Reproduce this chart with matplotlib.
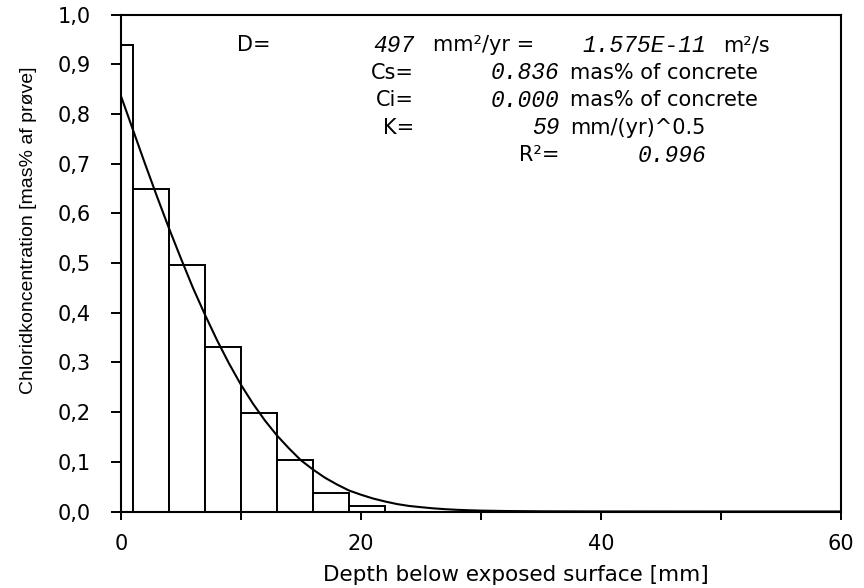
import matplotlib
matplotlib.use("Agg")
import matplotlib.pyplot as plt

# ---------------- data ----------------
depth_from = [0, 1, 4, 7, 10, 13, 16, 19]          # mm
depth_to = [1, 4, 7, 10, 13, 16, 19, 22]           # mm
chloride = [0.938, 0.649, 0.495, 0.332, 0.198, 0.103, 0.037, 0.011]  # mas%

fit_depth = [0, 1, 2, 3, 4, 5, 6, 7, 8, 9, 10, 11, 12, 13, 14, 15, 16, 17,
             18, 19, 20, 21, 22, 23, 24, 25, 26, 27, 28, 29, 30, 32, 35,
             40, 50, 60]
fit_conc = [0.836, 0.768, 0.700, 0.634, 0.570, 0.509, 0.450, 0.396, 0.345,
            0.298, 0.255, 0.217, 0.183, 0.153, 0.127, 0.103, 0.0845, 0.068,
            0.0544, 0.0423, 0.0338, 0.0262, 0.0202, 0.0150, 0.0112, 0.0087,
            0.0064, 0.0047, 0.0034, 0.0025, 0.0018, 0.0010, 0.0004, 0.0001,
            0.0, 0.0]

x_ticks = [0, 10, 20, 30, 40, 50, 60]
x_ticklabels = ["0", "", "20", "", "40", "", "60"]
y_ticks = [0.0, 0.1, 0.2, 0.3, 0.4, 0.5, 0.6, 0.7, 0.8, 0.9, 1.0]
y_ticklabels = ["0,0", "0,1", "0,2", "0,3", "0,4", "0,5", "0,6", "0,7",
                "0,8", "0,9", "1,0"]

D_mm2_yr = "497"
D_m2_s = "1.575E-11"
Cs_val = "0.836"
Ci_val = "0.000"
K_val = "59"
R2_val = "0.996"

# ---------------- figure ----------------
fig = plt.figure(figsize=(8.64, 5.88), dpi=100)
ax = fig.add_axes([0.1400, 0.1301, 0.8333, 0.8452])

widths = [b - a for a, b in zip(depth_from, depth_to)]
ax.bar(depth_from, chloride, width=widths, align="edge",
       facecolor="white", edgecolor="black", linewidth=1.4, zorder=2)
ax.plot(fit_depth, fit_conc, color="black", linewidth=1.5, zorder=3)

ax.set_xlim(0, 60)
ax.set_ylim(0, 1.0)
ax.set_xticks(x_ticks)
ax.set_xticklabels(x_ticklabels)
ax.set_yticks(y_ticks)
ax.set_yticklabels(y_ticklabels)

for s in ax.spines.values():
    s.set_linewidth(1.5)
    s.set_color("black")
    s.set_zorder(4)

ax.tick_params(axis="x", direction="out", length=6, width=1.4, pad=10.5,
               labelsize=15)
ax.tick_params(axis="y", direction="out", length=7.5, width=1.4, pad=14,
               labelsize=15)

ax.set_xlabel("Depth below exposed surface [mm]", fontsize=15.5,
              family="DejaVu Sans")
ax.xaxis.set_label_coords(0.549, -0.108)
ax.set_ylabel("Chloridkoncentration [mas% af prøve]", fontsize=14,
              family=["Liberation Sans", "DejaVu Sans"])
ax.yaxis.set_label_coords(-0.117, 0.565)

# ---------------- annotation block ----------------
sans = dict(family="DejaVu Sans", fontsize=15, va="center")
mono = dict(family=["Liberation Mono", "DejaVu Sans Mono"], style="italic",
            weight="normal", fontsize=16.5, va="center")

rows_y = [0.9386, 0.8833, 0.8279, 0.7726, 0.7173]

ax.text(9.67, rows_y[0], "D=", ha="left", **sans)
ax.text(24.45, rows_y[0], D_mm2_yr, ha="right", **mono)
ax.text(26.0, rows_y[0], "mm²/yr =", ha="left", **sans)
ax.text(48.8, rows_y[0], D_m2_s, ha="right", **mono)
ax.text(50.15, rows_y[0], "m²/s", ha="left", **sans)

ax.text(24.45, rows_y[1], "Cs=", ha="right", **sans)
ax.text(36.55, rows_y[1], Cs_val, ha="right", **mono)
ax.text(37.4, rows_y[1], "mas% of concrete", ha="left", **sans)

ax.text(24.45, rows_y[2], "Ci=", ha="right", **sans)
ax.text(36.55, rows_y[2], Ci_val, ha="right", **mono)
ax.text(37.4, rows_y[2], "mas% of concrete", ha="left", **sans)

ax.text(24.45, rows_y[3], "K=", ha="right", **sans)
ax.text(36.55, rows_y[3], K_val, ha="right", **mono)
ax.text(37.4, rows_y[3], "mm/(yr)^0.5", ha="left", **sans)

ax.text(36.55, rows_y[4], "R²=", ha="right", **sans)
ax.text(48.8, rows_y[4], R2_val, ha="right", **mono)

fig.savefig("out.png", dpi=100, facecolor="white")
